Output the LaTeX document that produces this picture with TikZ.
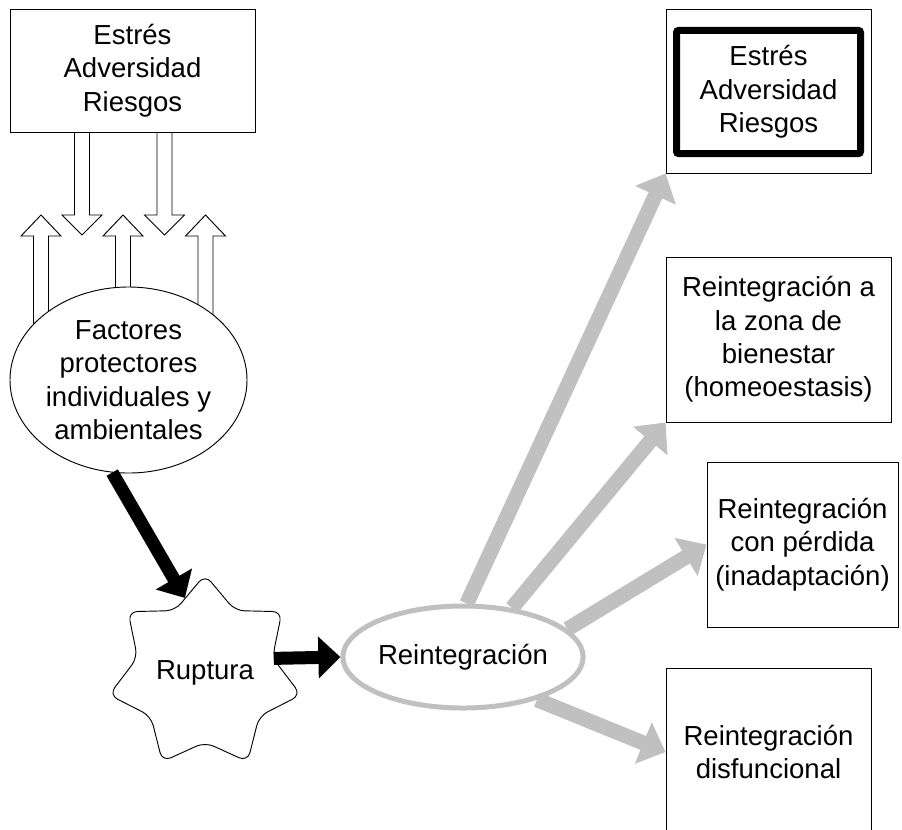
\documentclass[tikz,border=0pt]{standalone}
\usepackage{fontspec}
\setmainfont{Liberation Sans}
\usetikzlibrary{shapes,arrows.meta}
\definecolor{reintgray}{RGB}{192,192,192}

\tikzset{
    txt/.style={align=center, font=\fontsize{23.5}{28.5}\selectfont, inner sep=0pt},
    box/.style={txt, draw, line width=0.8pt, fill=white},
    hollow/.style={draw, line width=0.8pt, fill=white},
    blackarrow/.style={line width=0.39cm, -{Triangle[length=0.66cm,width=1.22cm]}},
    grayarrow/.style={reintgray, line width=0.45cm, -{Triangle[length=0.72cm,width=1.3cm]}}
}

\begin{document}
\begin{tikzpicture}[x=0.03cm, y=-0.03cm]
    \useasboundingbox (0,0) rectangle (902,829);
    \clip (0,0) rectangle (902,829);
    % hollow arrows: stress pushes down, protection pushes up
    \foreach \x in {82,164.5}
        \draw[hollow] (\x-7.5,132) -- (\x-7.5,215) -- (\x-20,215) -- (\x,235)
            -- (\x+20,215) -- (\x+7.5,215) -- (\x+7.5,132);
    \foreach \x in {41,123,205.5}
        \draw[hollow] (\x-7.5,340) -- (\x-7.5,236) -- (\x-20,236) -- (\x,215)
            -- (\x+20,236) -- (\x+7.5,236) -- (\x+7.5,340);

    \node[box, minimum width=7.35cm, minimum height=3.69cm] (stress) at (132.5,70.5) {Estrés\\Adversidad\\Riesgos};
    \node[box, ellipse, minimum width=7.11cm, minimum height=5.58cm] (fac) at (128.5,380)
        {Factores\\protectores\\individuales y\\ambientales};
    \node[box, star, star points=7, star point ratio=1.42, minimum size=5.9cm,
        rounded corners=0.28cm] (rup) at (205,673) {Ruptura};
    \node[txt, ellipse, fill=white, draw=reintgray, line width=0.15cm, minimum width=6.63cm,
        minimum height=3.06cm] (rei) at (463,657) {Reintegración};

    % outcomes
    \node[box, minimum width=6.15cm, minimum height=4.92cm] (res) at (768.5,91) {};
    \node[txt, draw, line width=0.21cm, rounded corners=2pt, minimum width=5.52cm,
        minimum height=3.7cm] (resin) at (768.5,92) {Estrés\\Adversidad\\Riesgos};
    \node[box, minimum width=6.75cm, minimum height=4.95cm] (homeo) at (778.5,339.5)
        {Reintegración a\\la zona de\\bienestar\\(homeoestasis)};
    \node[box, minimum width=5.73cm, minimum height=4.95cm] (inad) at (802.5,544.5)
        {Reintegración\\con pérdida\\(inadaptación)};
    \node[box, minimum width=6.15cm, minimum height=5.04cm] (disf) at (768.5,752)
        {Reintegración\\disfuncional};

    \draw[blackarrow] (fac.260) -- (rup.105);
    \draw[blackarrow] (rup.12) -- (rei.west);
    \draw[grayarrow] (rei.86) -- (res.south west);
    \draw[grayarrow] (rei.45) -- (homeo.south west);
    \draw[grayarrow] (rei.15) -- (inad.west);
    \draw[grayarrow] (rei.-30) -- (disf.west);
\end{tikzpicture}
\end{document}
